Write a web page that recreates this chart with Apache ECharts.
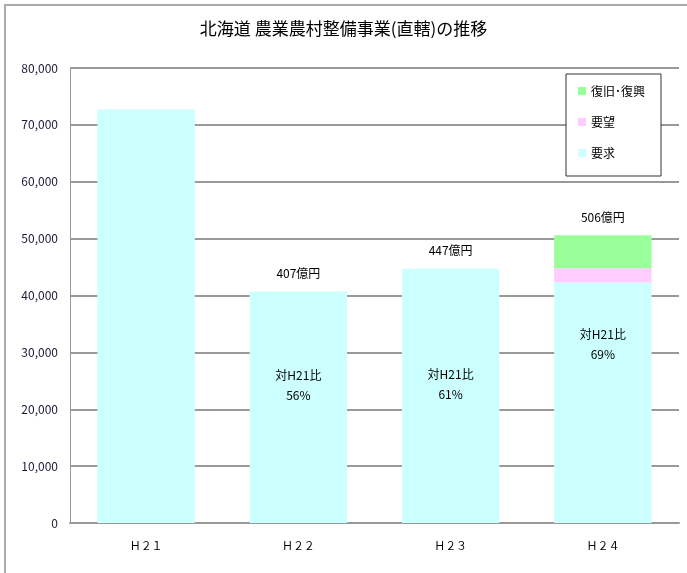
<!DOCTYPE html>
<html>
<head>
<meta charset="utf-8">
<script src="https://cdn.jsdelivr.net/npm/echarts@6/dist/echarts.min.js"></script>
<style>
  html, body { margin: 0; padding: 0; background: #fff; }
  #chart { width: 687px; height: 573px; }
</style>
</head>
<body>
<div id="chart"></div>
<script>
// 年度区分
const categories = ['Ｈ２１', 'Ｈ２２', 'Ｈ２３', 'Ｈ２４'];
// 事業費（百万円）
const youkyuu = [72700, 40700, 44700, 42300];   // 要求
const youbou = [0, 0, 0, 2500];                 // 要望
const fukkyuu = [0, 0, 0, 5800];                // 復旧・復興
// 対H21比
const ratioLabels = ['', '56%', '61%', '69%'];
const yTicks = [0, 80000, 10000];

const totals = categories.map((_, i) => youkyuu[i] + youbou[i] + fukkyuu[i]);

const FONT = '"Noto Sans CJK JP", "Noto Sans", sans-serif';
const chart = echarts.init(document.getElementById('chart'));

// 比率ラベルの縦位置調整（px）
const ratioOffsets = [0, -22, -11, -58];

chart.setOption({
  animation: false,
  backgroundColor: '#fff',
  textStyle: { fontFamily: FONT },
  title: {
    text: '北海道 農業農村整備事業(直轄)の推移',
    left: 'center',
    top: 15,
    textStyle: { fontFamily: FONT, fontSize: 17, fontWeight: 'normal', color: '#000' }
  },
  legend: {
    orient: 'vertical',
    left: 566,
    top: 74,
    padding: [10, 16, 16, 12],
    itemGap: 17,
    itemWidth: 8,
    itemHeight: 8,
    icon: 'rect',
    backgroundColor: '#fff',
    borderColor: '#333',
    borderWidth: 1,
    borderRadius: 0,
    data: ['復旧･復興', '要望', '要求'],
    textStyle: { fontFamily: FONT, fontSize: 12, color: '#000', lineHeight: 14 }
  },
  grid: { left: 70, right: 8, top: 68, bottom: 50 },
  xAxis: {
    type: 'category',
    data: categories,
    axisLine: { lineStyle: { color: '#999', width: 2 } },
    axisTick: { show: false },
    axisLabel: { margin: 17, fontFamily: FONT, fontSize: 11, color: '#000' }
  },
  yAxis: {
    type: 'value',
    min: yTicks[0],
    max: yTicks[1],
    interval: yTicks[2],
    axisLine: { show: true, lineStyle: { color: '#999', width: 1 } },
    axisTick: { show: false },
    splitLine: { lineStyle: { color: '#999', width: 2 } },
    axisLabel: {
      margin: 12,
      fontFamily: FONT,
      fontSize: 12,
      color: '#1a1a3a',
      formatter: v => v.toLocaleString('en-US')
    }
  },
  series: [
    {
      name: '要求',
      type: 'bar',
      stack: 'total',
      barCategoryGap: '36%',
      data: youkyuu.map((v, i) => ({
        value: v,
        label: { offset: [0, ratioOffsets[i]] }
      })),
      itemStyle: { color: '#CCFFFF' },
      label: {
        show: true,
        position: 'inside',
        fontFamily: FONT,
        fontSize: 12,
        color: '#000',
        lineHeight: 20,
        formatter: p => ratioLabels[p.dataIndex] ? '対H21比\n' + ratioLabels[p.dataIndex] : ''
      }
    },
    {
      name: '要望',
      type: 'bar',
      stack: 'total',
      data: youbou,
      itemStyle: { color: '#FFCCFF' }
    },
    {
      name: '復旧･復興',
      type: 'bar',
      stack: 'total',
      data: fukkyuu,
      itemStyle: { color: '#99FF99' }
    },
    {
      // 合計額ラベル（億円）
      name: '合計',
      type: 'bar',
      barGap: '-100%',
      silent: true,
      data: totals.map((v, i) => ({
        value: v,
        label: { show: i > 0 }
      })),
      itemStyle: { color: 'rgba(0,0,0,0)' },
      label: {
        show: true,
        position: 'top',
        distance: 12,
        fontFamily: FONT,
        fontSize: 12,
        color: '#000',
        formatter: p => Math.round(p.value / 100) + '億円'
      }
    }
  ],
  graphic: [
    {
      type: 'rect',
      shape: { x: 5, y: 5, width: 720, height: 620 },
      style: { fill: 'none', stroke: '#aaa', lineWidth: 2 },
      silent: true,
      z: -1
    }
  ]
});
</script>
</body>
</html>
